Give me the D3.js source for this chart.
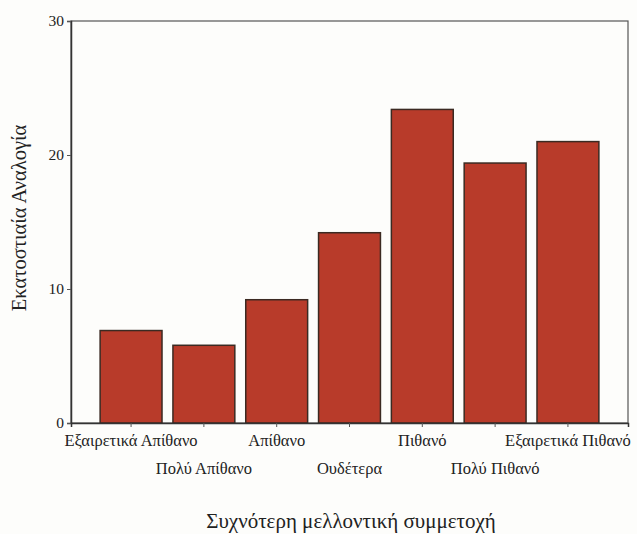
<!DOCTYPE html>
<html>
<head>
<meta charset="utf-8">
<script src="https://cdn.jsdelivr.net/npm/d3@7"></script>
<style>
  html, body { margin: 0; padding: 0; background: #fdfdfb; }
  svg { display: block; }
  text { font-family: "Liberation Serif", "DejaVu Serif", serif; fill: #222; }
</style>
</head>
<body>
<svg id="chart" width="637" height="534"></svg>
<script>
const categories = ["Εξαιρετικά Απίθανο", "Πολύ Απίθανο", "Απίθανο", "Ουδέτερα", "Πιθανό", "Πολύ Πιθανό", "Εξαιρετικά Πιθανό"];
const values = [6.9, 5.8, 9.2, 14.2, 23.4, 19.4, 21.0];
const yTicks = [0, 10, 20, 30];
const yTitle = "Εκατοστιαία Αναλογία";
const xTitle = "Συχνότερη μελλοντική συμμετοχή";

const svg = d3.select("#chart");
const mLeft = 71, mRight = 628, mTop = 21, mBottom = 423;

const x = d3.scaleBand().domain(categories).range([mLeft, mRight]).paddingInner(0.15).paddingOuter(0.4);
const y = d3.scaleLinear().domain([0, 30]).range([mBottom, mTop]);

// frame
svg.append("rect").attr("x", mLeft).attr("y", mTop).attr("width", mRight - mLeft).attr("height", mBottom - mTop)
  .attr("fill", "none").attr("stroke", "#555").attr("stroke-width", 1.2);

// bars
svg.append("g").selectAll("rect").data(values).join("rect")
  .attr("x", (d, i) => x(categories[i]))
  .attr("y", d => y(d))
  .attr("width", x.bandwidth())
  .attr("height", d => y(0) - y(d))
  .attr("fill", "#b83b2a")
  .attr("stroke", "#3b2a22")
  .attr("stroke-width", 1.5);

// y axis
const yAxis = d3.axisLeft(y).tickValues(yTicks).tickSize(4).tickPadding(3).tickFormat(d3.format("d"));
const gy = svg.append("g").attr("transform", `translate(${mLeft},0)`).call(yAxis);
gy.select(".domain").attr("stroke", "#333").attr("stroke-width", 1.5);
gy.selectAll(".tick line").attr("stroke", "#555");
gy.selectAll(".tick text").attr("font-size", 15.5).attr("font-family", "Liberation Serif").attr("fill", "#222");

// x axis
const xAxis = d3.axisBottom(x).tickSize(4).tickPadding(4);
const gx = svg.append("g").attr("transform", `translate(0,${mBottom})`).call(xAxis);
gx.select(".domain").attr("stroke", "#333").attr("stroke-width", 1.5);
gx.selectAll(".tick line").attr("stroke", "#555");
gx.selectAll(".tick text")
  .attr("font-size", 16.5).attr("font-family", "Liberation Serif").attr("fill", "#222")
  .attr("y", (d, i) => i % 2 === 0 ? 23 : 51)
  .attr("dy", 0);

// titles
svg.append("text").attr("transform", `translate(26,218) rotate(-90)`)
  .attr("text-anchor", "middle").attr("font-size", 20.5).text(yTitle);
svg.append("text").attr("x", 351).attr("y", 528)
  .attr("text-anchor", "middle").attr("font-size", 21).text(xTitle);
</script>
</body>
</html>
